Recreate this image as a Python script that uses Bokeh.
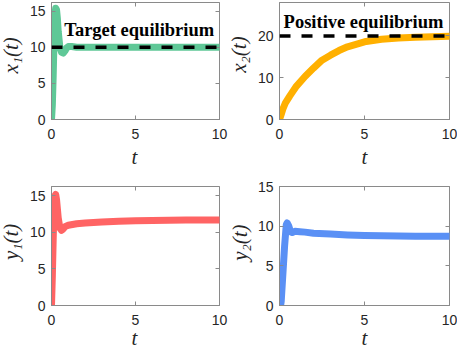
import math
from bokeh.plotting import figure
from bokeh.layouts import column, row
from bokeh.models import Range1d, LinearAxis, FixedTicker, Label, Span, CustomLabelingPolicy
from bokeh.embed import file_html
from bokeh.resources import INLINE

# ---- data ----
t_x1 = [0, 0.05, 0.1, 0.15, 0.2, 0.25, 0.3, 0.35, 0.4, 0.5, 0.6, 0.7, 0.8, 0.9, 1.0, 1.2, 1.5, 2, 3, 5, 10]
x1 = [0, 2, 6, 11, 14.5, 15.4, 15.2, 14.0, 12.2, 10.0, 9.3, 9.2, 9.5, 9.9, 10.1, 10.1, 10.0, 10.0, 10.0, 10.0, 10.0]

t_x2 = [0, 0.1, 0.2, 0.35, 0.6, 1, 1.5, 2, 2.5, 3, 3.5, 4, 5, 6, 7, 8, 9, 10]
x2 = [0, 1.2, 2.5, 4.0, 5.6, 8.0, 10.3, 12.3, 14.2, 15.4, 16.5, 17.4, 18.6, 19.2, 19.5, 19.7, 19.8, 19.9]

t_y1 = [0, 0.05, 0.1, 0.15, 0.2, 0.25, 0.3, 0.4, 0.5, 0.6, 0.7, 0.8, 1, 1.5, 2, 3, 4, 5, 6, 8, 10]
y1 = [0, 4, 9, 13.5, 15.0, 15.2, 14.5, 12.0, 10.6, 10.3, 10.5, 10.8, 11.0, 11.2, 11.3, 11.45, 11.55, 11.6, 11.65, 11.7, 11.7]

t_y2 = [0, 0.05, 0.1, 0.2, 0.3, 0.4, 0.45, 0.55, 0.65, 0.75, 0.9, 1.2, 1.5, 2, 3, 4, 5, 6, 8, 10]
y2 = [0, -0.2, 0.5, 4.0, 7.5, 10.2, 10.4, 10.0, 9.3, 9.2, 9.35, 9.3, 9.25, 9.1, 9.0, 8.9, 8.82, 8.78, 8.74, 8.72]

target_x1 = 10
positive_x2 = 20

x_ticks = [0, 5, 10]
y_ticks_x1 = [0, 5, 10, 15]
y_ticks_x2 = [0, 10, 20]
y_ticks_y1 = [0, 5, 10, 15]
y_ticks_y2 = [0, 5, 10, 15]

x_name = "t"
names = ["x₁(t)", "x₂(t)", "y₁(t)", "y₂(t)"]

GRAY = "#8a8a8a"
TEXT = "#262626"
TICKFONT = "Liberation Sans"
LABFONT = "Liberation Serif"

NO_LABELS = """
const all = [];
for (const i of indices) all.push(i);
for (const i of all) indices.unset(i);
return indices;
"""


def panel(t, y, color, ymax, yticks, w, h, bl, br, bt, bb):
    p = figure(width=w, height=h, output_backend="svg", toolbar_location=None,
               x_range=Range1d(0, 10), y_range=Range1d(0, ymax),
               min_border_left=bl, min_border_right=br,
               min_border_top=bt, min_border_bottom=bb)
    p.grid.visible = False
    p.outline_line_color = GRAY
    p.outline_line_width = 1
    p.line(t, y, line_color=color, line_width=7, line_cap="round", line_join="round")
    for ax in (p.xaxis[0], p.yaxis[0]):
        ax.axis_line_color = GRAY
        ax.major_tick_line_color = GRAY
        ax.major_tick_in = 4
        ax.major_tick_out = 0
        ax.minor_tick_line_color = None
        ax.major_label_text_font = TICKFONT
        ax.major_label_text_font_size = "14px"
        ax.major_label_text_color = TEXT
    p.xaxis.ticker = FixedTicker(ticks=x_ticks)
    p.yaxis.ticker = FixedTicker(ticks=yticks)
    p.xaxis.major_label_standoff = 9
    p.yaxis.major_label_standoff = 6
    for loc, tk in (("above", x_ticks), ("right", yticks)):
        ax = LinearAxis(ticker=FixedTicker(ticks=tk), major_label_text_font_size="0px",
                        major_label_policy=CustomLabelingPolicy(code=NO_LABELS),
                        major_tick_in=4, major_tick_out=0, major_tick_line_color=GRAY,
                        minor_tick_line_color=None, axis_line_color=None,
                        major_label_standoff=0)
        p.add_layout(ax, loc)
    return p


def text_box(w, h, x, y, text, angle=0.0, baseline="middle"):
    """A blank strip that only carries an axis title."""
    f = figure(width=w, height=h, output_backend="svg", toolbar_location=None,
               x_range=Range1d(0, w), y_range=Range1d(0, h), min_border=0,
               x_axis_location=None, y_axis_location=None)
    f.grid.visible = False
    f.outline_line_color = None
    f.add_layout(Label(x=x, y=y, text=text, text_font=LABFONT, text_font_style="italic",
                       text_font_size="21px", text_color=TEXT, text_align="center",
                       text_baseline=baseline, angle=angle))
    return f


ROT = math.pi / 2

# top row
p1 = panel(t_x1, x1, "#5fc897", 16.2, y_ticks_x1, 202, 146, 23, 9, 2, 27)
p1.add_layout(Span(location=target_x1, dimension="width", line_color="black",
                   line_width=3.5, line_dash="11 11"))
p1.add_layout(Label(x=0.76, y=12.4, text="Target equilibrium", text_font=LABFONT,
                    text_font_style="bold", text_font_size="18.5px", text_baseline="middle",
                    text_color="black"))

p2 = panel(t_x2, x2, "#ffb000", 28, y_ticks_x2, 203, 146, 25, 8, 2, 27)
p2.add_layout(Span(location=positive_x2, dimension="width", line_color="black",
                   line_width=3.5, line_dash="11 11"))
p2.add_layout(Label(x=0.24, y=23.3, text="Positive equilibrium", text_font=LABFONT,
                    text_font_style="bold", text_font_size="18.5px", text_baseline="middle",
                    text_color="black"))

a1 = text_box(26, 146, 10, 80, names[0], ROT)
b1 = text_box(26, 146, 10, 81, names[1], ROT)
t1 = text_box(228, 27, 134, 17, x_name, baseline="alphabetic")
t2 = text_box(229, 27, 136, 17, x_name, baseline="alphabetic")

# bottom row
p3 = panel(t_y1, y1, "#ff6464", 16.3, y_ticks_y1, 202, 159, 23, 9, 13, 27)
p4 = panel(t_y2, y2, "#5a90f5", 15, y_ticks_y2, 203, 159, 25, 8, 13, 27)

a3 = text_box(26, 159, 10, 85, names[2], ROT)
b3 = text_box(26, 159, 11, 84, names[3], ROT)
t3 = text_box(228, 16, 134, 11, x_name, baseline="alphabetic")
t4 = text_box(229, 16, 136, 11, x_name, baseline="alphabetic")

layout = column(row(a1, p1, b1, p2), row(t1, t2),
                row(a3, p3, b3, p4), row(t3, t4))

open("out.html", "w").write(file_html(layout, INLINE))
